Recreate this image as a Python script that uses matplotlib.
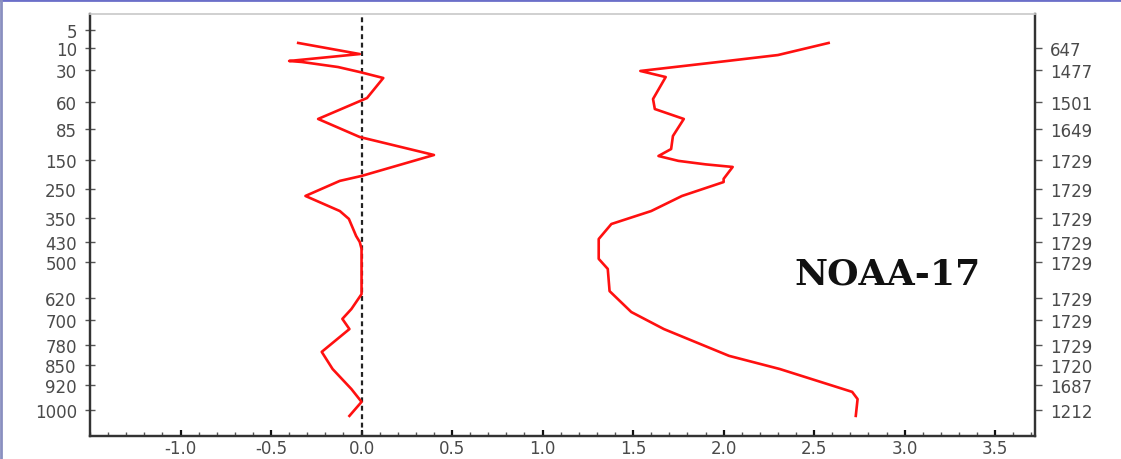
import numpy as np
import matplotlib
matplotlib.use("Agg")
import matplotlib.pyplot as plt
from matplotlib.ticker import FixedLocator, MultipleLocator, NullLocator

# Pressure levels (hPa) on the left axis, observation counts on the right axis
levels = [5, 10, 30, 60, 85, 150, 250, 350, 430, 500, 620, 700, 780, 850, 920, 1000]
count_levels = [10, 30, 60, 85, 150, 250, 350, 430, 500, 620, 700, 780, 850, 920, 1000]
counts = [647, 1477, 1501, 1649, 1729, 1729, 1729, 1729, 1729, 1729,
          1729, 1729, 1720, 1687, 1212]

# Mean difference profile (K)
bias_p = [8.6, 15.5, 21.8, 22.7, 27.3, 31.9, 37.5, 56.3, 75.7, 101.8, 139.5,
          205, 222, 274, 326, 353, 410, 430, 454, 607, 660, 696, 729, 804,
          864, 933, 974, 1019]
bias = [-0.35, -0.01, -0.40, -0.33, -0.13, -0.01, 0.12, 0.03, -0.24, -0.01, 0.40,
        0.00, -0.12, -0.31, -0.12, -0.07, -0.03, -0.01, 0.00, 0.00, -0.056, -0.106,
        -0.067, -0.22, -0.16, -0.056, 0.00, -0.067]

# Standard deviation profile (K)
std_p = [8.6, 16.4, 21.8, 30.9, 36.6, 57.2, 66.5, 75.7, 99.7, 127, 141.6, 153,
         165, 174, 215, 226, 274, 326, 370, 420, 489, 523, 597, 671, 729, 818,
         864, 942, 965, 1019]
std = [2.58, 2.30, 2.02, 1.54, 1.68, 1.61, 1.62, 1.78, 1.72, 1.71, 1.64, 1.75,
       1.90, 2.05, 2.00, 2.00, 1.77, 1.60, 1.38, 1.31, 1.31, 1.36, 1.37, 1.49,
       1.67, 2.03, 2.31, 2.71, 2.74, 2.73]

# Piecewise-linear vertical layout of the pressure axis
scale_p = [0, 5, 10, 30, 60, 85, 150, 250, 350, 430, 500, 620, 700, 780,
           850, 920, 1000, 1100]
scale_u = [13, 31, 49, 71, 103, 130, 161, 190, 219, 243, 263, 299, 321, 346,
           366, 386, 411, 442]


def fwd(p):
    return np.interp(p, scale_p, scale_u)


def inv(u):
    return np.interp(u, scale_u, scale_p)


plt.rcParams['axes.unicode_minus'] = False
label_color = '#4a4a4a'

fig = plt.figure(figsize=(11.21, 4.60), dpi=100)
ax = fig.add_axes([90 / 1121, 23 / 460, 945 / 1121, 422 / 460])

ax.set_yscale('function', functions=(fwd, inv))
ax.set_ylim(inv(437), inv(15))
ax.set_xlim(-1.5, 3.72)

ax.plot(bias, bias_p, color='#ff1010', lw=1.9, solid_joinstyle='round', zorder=3)
ax.plot(std, std_p, color='#ff1010', lw=1.9, solid_joinstyle='round', zorder=3)
ax.axvline(0.0, color='#222222', lw=1.6, ls=(0, (2.2, 1.6)), zorder=2)

# x axis
ax.xaxis.set_major_locator(FixedLocator([-1.0, -0.5, 0.0, 0.5, 1.0, 1.5, 2.0, 2.5, 3.0, 3.5]))
ax.xaxis.set_major_formatter(matplotlib.ticker.FormatStrFormatter('%.1f'))
ax.xaxis.set_minor_locator(MultipleLocator(0.1))
ax.tick_params(axis='x', which='major', direction='in', length=4, width=1.6,
               color='#111111', labelsize=12, labelcolor=label_color, pad=2)
ax.tick_params(axis='x', which='minor', direction='in', length=3, width=1.0,
               color='#555555')

# left pressure axis
ax.yaxis.set_major_locator(FixedLocator(levels))
ax.yaxis.set_major_formatter(matplotlib.ticker.FixedFormatter([str(v) for v in levels]))
ax.yaxis.set_minor_locator(NullLocator())
ax.tick_params(axis='y', which='major', direction='inout', length=7, width=1.0,
               color='#555555', labelsize=12, labelcolor=label_color, pad=6)

# right count axis
ax2 = ax.twinx()
ax2.set_yscale('function', functions=(fwd, inv))
ax2.set_ylim(ax.get_ylim())
ax2.yaxis.set_major_locator(FixedLocator(count_levels))
ax2.yaxis.set_major_formatter(matplotlib.ticker.FixedFormatter([str(c) for c in counts]))
ax2.yaxis.set_minor_locator(NullLocator())
ax2.tick_params(axis='y', which='major', direction='out', length=5, width=1.0,
                color='#555555', labelsize=12, labelcolor=label_color, pad=6)

for a in (ax, ax2):
    for side in ('left', 'right', 'bottom'):
        a.spines[side].set_color('#333333')
        a.spines[side].set_linewidth(1.6)
    a.spines['top'].set_color('#d0d0d0')
    a.spines['top'].set_linewidth(1.2)

ax.text(0.844, 0.384, 'NOAA-17', transform=ax.transAxes, ha='center', va='center',
        fontsize=26, fontweight='bold', family='DejaVu Serif', color='#111111')

# thin frame lines along the top and left edges of the figure
fig.add_artist(plt.Line2D([0, 1], [0.997, 0.997], transform=fig.transFigure,
                          color='#6b6fc9', lw=2))
fig.add_artist(plt.Line2D([0.001, 0.001], [0, 1], transform=fig.transFigure,
                          color='#8a8fc0', lw=2))

fig.savefig('out.png', dpi=100)
